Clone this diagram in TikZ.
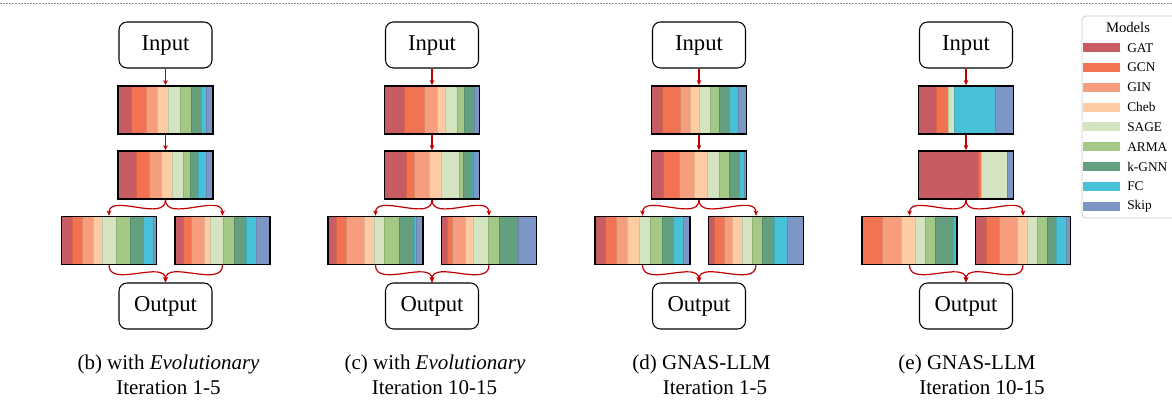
\documentclass[tikz,border=0pt]{standalone}
\usepackage{fontspec}
\setmainfont{Liberation Serif}
\usetikzlibrary{arrows.meta}
\definecolor{c1}{RGB}{199,92,98}
\definecolor{c2}{RGB}{241,115,82}
\definecolor{c3}{RGB}{245,157,125}
\definecolor{c4}{RGB}{253,204,165}
\definecolor{c5}{RGB}{212,227,192}
\definecolor{c6}{RGB}{164,201,134}
\definecolor{c7}{RGB}{100,160,127}
\definecolor{c8}{RGB}{72,192,216}
\definecolor{c9}{RGB}{124,150,198}
\definecolor{linkred}{RGB}{192,0,0}
\newcommand{\segbar}[4]{%
  \gdef\segx{#2-47.5}
  \foreach \w [count=\i] in {#4} {
    \ifnum\w>0
      \fill[fill=c\i, draw=c\i!88!black, line width=0.3pt] (\segx,#3-24) rectangle ++(\w/3,48);
    \fi
    \pgfmathsetmacro\segnext{\segx+\w/3}
    \global\let\segx\segnext
  }
  \node[barbox] (#1) at (#2,#3) {};
}
\newcommand{\gnaspanel}[6]{%
  \node[iobox] (in#1) at (#2,45) {Input};
  \segbar{top#1}{#2}{110}{#3}
  \segbar{mid#1}{#2}{175}{#4}
  \segbar{left#1}{#2-56.5}{240.5}{#5}
  \segbar{right#1}{#2+57}{240.5}{#6}
  \node[iobox] (out#1) at (#2,306) {Output};
  \draw[link] (in#1) -- (top#1);
  \draw[link] (top#1) -- (mid#1);
  \draw[link] (mid#1.south) to[out=-90,in=90] (left#1.north);
  \draw[link] (mid#1.south) to[out=-90,in=90] (right#1.north);
  \draw[link] (left#1.south) to[out=-90,in=90] (out#1.north);
  \draw[link] (right#1.south) to[out=-90,in=90] (out#1.north);
}

\begin{document}
\begin{tikzpicture}[x=0.75pt, y=-0.75pt,
  iobox/.style={draw, line width=0.8pt, rounded corners=6pt, minimum width=69.75pt,
    minimum height=34.5pt, inner sep=0pt, font=\fontsize{17}{20}\selectfont},
  barbox/.style={draw, line width=1.1pt, minimum width=71.25pt, minimum height=36pt, inner sep=0pt},
  link/.style={draw=linkred, line width=0.9pt, -{Stealth[length=4pt, width=3.5pt]}},
  caption/.style={anchor=base, inner sep=0pt, font=\fontsize{15.75}{18}\selectfont},
  sepline/.style={draw=black!45, line width=0.75pt, dash pattern=on 1.5pt off 0.75pt}]
\useasboundingbox (0,0) rectangle (1172,402);
\draw[sepline] (0,3.5) -- (1172,3.5);

\gnaspanel{b}{165.5}{40,45,33,34,36,32,30,15,20}{55,38,37,32,33,23,24,23,20}
  {33,30,33,26,43,40,41,29,10}{25,25,38,19,38,33,37,30,40}
\gnaspanel{c}{432}{58,60,39,26,35,22,27,2,16}{65,23,47,35,53,14,26,4,18}
  {25,30,53,30,32,43,47,5,20}{18,13,40,24,46,32,58,0,54}
\gnaspanel{d}{699}{33,52,30,28,32,28,29,28,25}{36,47,44,40,35,31,30,14,8}
  {30,35,33,34,33,38,32,30,20}{16,32,23,29,30,31,37,38,49}
\gnaspanel{e}{966}{53,37,0,0,16,0,0,125,54}{178,10,0,0,77,0,0,0,20}
  {0,62,57,40,32,30,52,12,0}{33,38,55,30,30,29,28,28,14}

\node[caption] (capb1) at (168.5,370) {(b) with \textit{Evolutionary}};
\node[caption] (capb2) at (168.5,395) {Iteration 1-5};
\node[caption] (capc1) at (435,370) {(c) with \textit{Evolutionary}};
\node[caption] (capc2) at (434.5,395) {Iteration 10-15};
\node[caption] (capd1) at (701.5,370) {(d) GNAS-LLM};
\node[caption] (capd2) at (715,395) {Iteration 1-5};
\node[caption] (cape1) at (967,370) {(e) GNAS-LLM};
\node[caption] (cape2) at (982,395) {Iteration 10-15};

\draw[draw=black!20, line width=0.6pt, rounded corners=3pt] (1082,16) rectangle (1190,218);
\node[font=\fontsize{11}{13}\selectfont] (legtitle) at (1128,27) {Models};
\foreach \m [count=\i] in {GAT,GCN,GIN,Cheb,SAGE,ARMA,k-GNN,FC,Skip} {
  \fill[c\i] (1083,{28+19.8*\i-4.5}) rectangle ++(37,9);
  \node[anchor=west, inner sep=0pt, font=\fontsize{10}{12}\selectfont] (leg\i) at (1127,{28+19.8*\i}) {\m};
}
\end{tikzpicture}
\end{document}
